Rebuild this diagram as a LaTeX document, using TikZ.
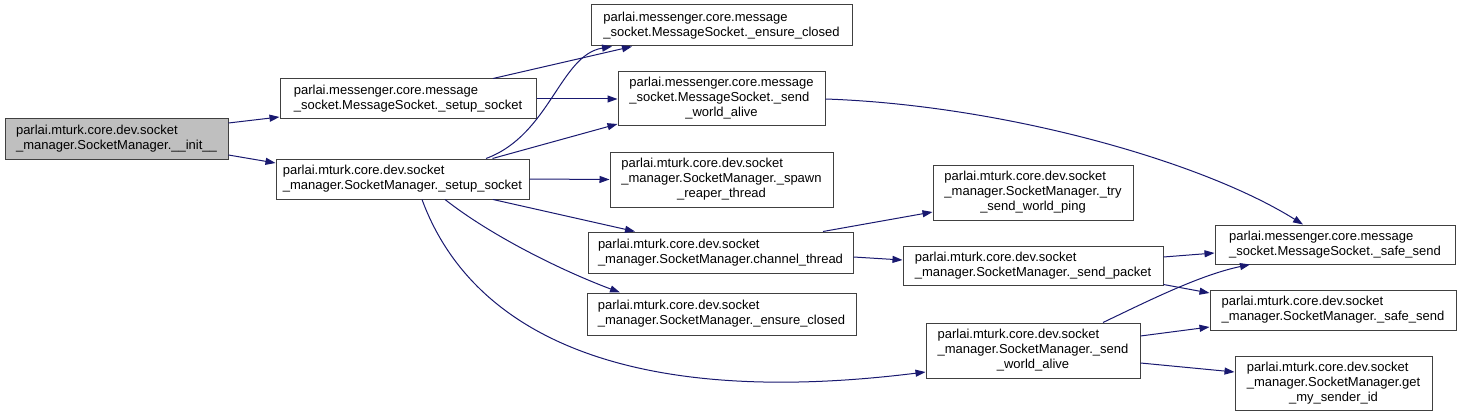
\documentclass[tikz,border=0pt]{standalone}
\usepackage{fontspec}
\setmainfont{Liberation Sans}
\usetikzlibrary{arrows.meta}

\definecolor{edgeblue}{RGB}{25,25,112}
\definecolor{rootgray}{RGB}{191,191,191}
\definecolor{framegray}{RGB}{64,64,64}

% three lines: two left, the last one centred
\newcommand{\fnthree}[3]{\begin{tabular}{@{}l@{}}#1\\#2\\\multicolumn{1}{@{}c@{}}{#3}\end{tabular}}

\begin{document}
\begin{tikzpicture}[
    x=1pt, y=-1pt,
    fn/.style 2 args={rectangle, draw=framegray, line width=1pt, fill=white, inner sep=0pt, align=left, minimum width=#1, minimum height=#2, font=\fontsize{13}{15}\selectfont},
    root/.style={fill=rootgray},
    arrow/.style={-{Triangle[length=10pt,width=7pt]}, draw=edgeblue, line width=1pt}
]
    \useasboundingbox[fill=white] (0,0) rectangle (1461,417);

    \node[fn={223pt}{40pt}, root] (init) at (116.5,139) {parlai.mturk.core.dev.socket\\\_manager.SocketManager.\_\_init\_\_};

    \node[fn={256pt}{40pt}] (mssetup) at (408,99) {parlai.messenger.core.message\\\_socket.MessageSocket.\_setup\_socket};
    \node[fn={253pt}{40pt}] (smsetup) at (402.5,179) {parlai.mturk.core.dev.socket\\\_manager.SocketManager.\_setup\_socket};

    \node[fn={261pt}{41pt}] (msclose) at (721.5,25.5) {parlai.messenger.core.message\\\_socket.MessageSocket.\_ensure\_closed};
    \node[fn={207pt}{54pt}] (msalive) at (721.5,99) {\fnthree{parlai.messenger.core.message}{\_socket.MessageSocket.\_send}{\_world\_alive}};
    \node[fn={223pt}{55pt}] (spawn) at (721.5,179.5) {\fnthree{parlai.mturk.core.dev.socket}{\_manager.SocketManager.\_spawn}{\_reaper\_thread}};
    \node[fn={265pt}{41pt}] (channel) at (720.5,252.5) {parlai.mturk.core.dev.socket\\\_manager.SocketManager.channel\_thread};
    \node[fn={269pt}{42pt}] (smclose) at (721.5,314) {parlai.mturk.core.dev.socket\\\_manager.SocketManager.\_ensure\_closed};

    \node[fn={200pt}{55pt}] (tryping) at (1033,192.5) {\fnthree{parlai.mturk.core.dev.socket}{\_manager.SocketManager.\_try}{\_send\_world\_ping}};
    \node[fn={260pt}{39pt}] (packet) at (1033,265.5) {parlai.mturk.core.dev.socket\\\_manager.SocketManager.\_send\_packet};
    \node[fn={214pt}{55pt}] (smalive) at (1033,350.5) {\fnthree{parlai.mturk.core.dev.socket}{\_manager.SocketManager.\_send}{\_world\_alive}};

    \node[fn={240pt}{39pt}] (mssafe) at (1335,244.5) {parlai.messenger.core.message\\\_socket.MessageSocket.\_safe\_send};
    \node[fn={246pt}{40pt}] (smsafe) at (1333,310) {parlai.mturk.core.dev.socket\\\_manager.SocketManager.\_safe\_send};
    \node[fn={197pt}{54pt}] (getid) at (1333.5,383) {\fnthree{parlai.mturk.core.dev.socket}{\_manager.SocketManager.get}{\_my\_sender\_id}};

    % calls from the constructor
    \draw[arrow] ([yshift=16pt]init.east) -- ([yshift=-18pt]mssetup.west);
    \draw[arrow] ([yshift=-16pt]init.east) -- ([yshift=16pt]smsetup.west);

    % message socket setup
    \draw[arrow] ([xshift=85pt]mssetup.north) -- ([xshift=-89.5pt]msclose.south);
    \draw[arrow] (mssetup.east) -- (msalive.west);

    % socket manager setup
    \draw[arrow] ([xshift=83.5pt]smsetup.north) .. controls (550,135) and (560,55) .. ([xshift=-109.5pt]msclose.south);
    \draw[arrow] ([xshift=90pt]smsetup.north) -- ([yshift=-25pt]msalive.west);
    \draw[arrow] (smsetup.east) -- (spawn.west);
    \draw[arrow] ([xshift=90.5pt]smsetup.south) -- ([xshift=-85.5pt]channel.north);
    \draw[arrow] ([xshift=42.5pt]smsetup.south) .. controls (490,235) and (560,270) .. ([xshift=-101.5pt]smclose.north);
    \draw[arrow] ([xshift=19.5pt]smsetup.south) .. controls (470,330) and (620,410) .. ([yshift=-21.5pt]smalive.west);

    \draw[arrow] (msalive.east) .. controls (1000,105) and (1200,160) .. ([xshift=-32pt]mssafe.north);

    % channel thread
    \draw[arrow] ([xshift=102.5pt]channel.north) -- ([yshift=-19.5pt]tryping.west);
    \draw[arrow] ([yshift=-4.5pt]channel.east) -- ([yshift=5.5pt]packet.west);

    \draw[arrow] ([yshift=8.5pt]packet.east) -- ([yshift=-8.5pt]mssafe.west);
    \draw[arrow] ([yshift=-19pt]packet.east) -- ([yshift=17pt]smsafe.west);

    \draw[arrow] ([xshift=70pt]smalive.north) .. controls (1150,300) and (1200,275) .. ([xshift=-85pt]mssafe.south);
    \draw[arrow] ([yshift=14.5pt]smalive.east) -- ([yshift=-17pt]smsafe.west);
    \draw[arrow] ([yshift=-12.5pt]smalive.east) -- ([yshift=11pt]getid.west);

\end{tikzpicture}
\end{document}
